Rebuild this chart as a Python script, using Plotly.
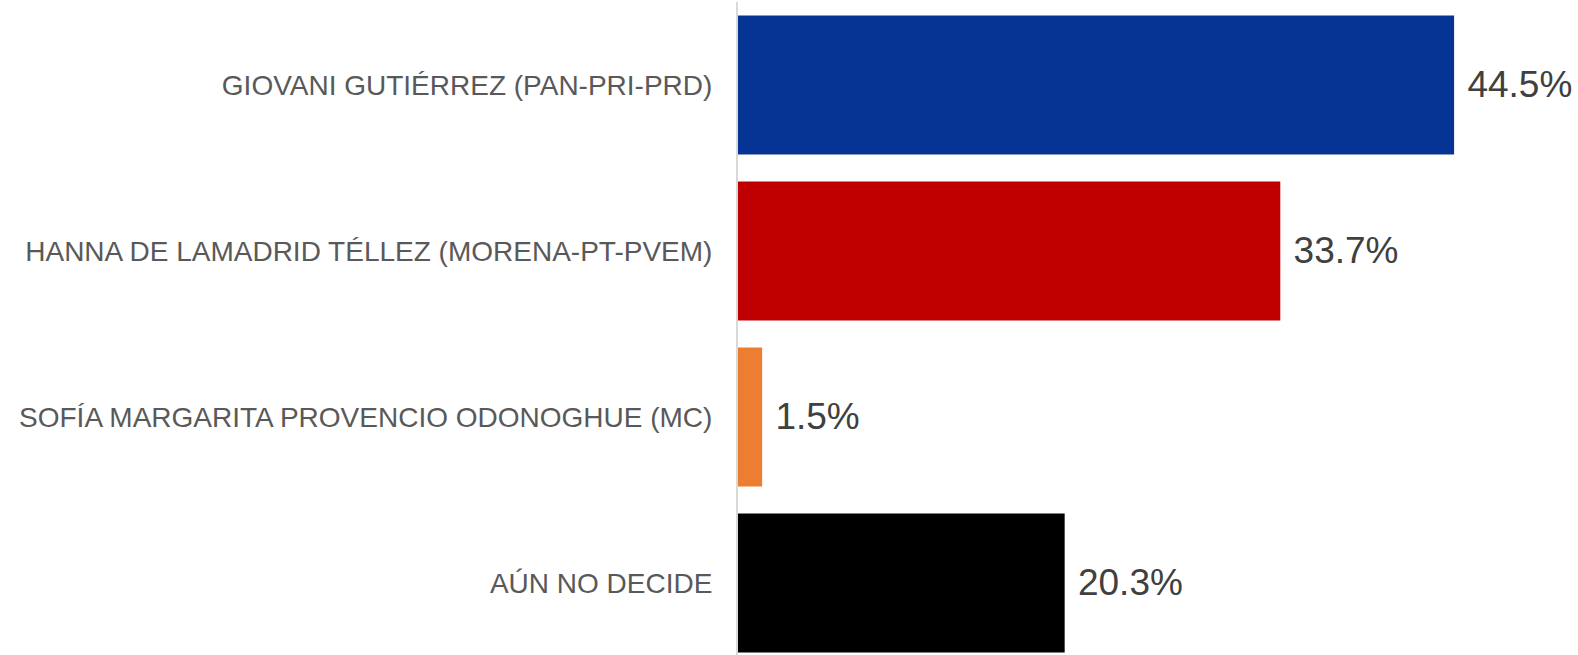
import plotly.graph_objects as go

categories = [
    "GIOVANI GUTIÉRREZ (PAN-PRI-PRD)",
    "HANNA DE LAMADRID TÉLLEZ (MORENA-PT-PVEM)",
    "SOFÍA MARGARITA PROVENCIO ODONOGHUE (MC)",
    "AÚN NO DECIDE",
]
values = [44.5, 33.7, 1.5, 20.3]
labels = ["44.5%", "33.7%", "1.5%", "20.3%"]
colors = ["#063494", "#C00000", "#ED7D31", "#000000"]

fig = go.Figure(
    go.Bar(
        x=values,
        y=categories,
        orientation="h",
        marker=dict(color=colors, line=dict(width=0)),
        text=["\u00a0" + t for t in labels],
        textposition="outside",
        textfont=dict(family="Liberation Sans, Arial", size=37, color="#404040"),
        cliponaxis=False,
        hoverinfo="skip",
    )
)

fig.update_layout(
    width=1578,
    height=655,
    margin=dict(l=738, r=0, t=2, b=0, autoexpand=False),
    paper_bgcolor="white",
    plot_bgcolor="white",
    bargap=0.163,
    showlegend=False,
    xaxis=dict(range=[0, 52.2], visible=False, showgrid=False, zeroline=False,
               automargin=False),
    yaxis=dict(
        type="category",
        range=[3.434, -0.5],
        showgrid=False,
        zeroline=False,
        showline=True,
        linecolor="#D9D9D9",
        linewidth=2,
        ticks="",
        automargin=False,
        ticklabelstandoff=18,
        tickfont=dict(family="Liberation Sans, Arial", size=28, color="#595959"),
    ),
)

fig.write_html(
    "out.html",
    config={"displayModeBar": False, "staticPlot": True},
    post_script="document.body.style.margin='0';document.body.style.overflow='hidden';",
)
